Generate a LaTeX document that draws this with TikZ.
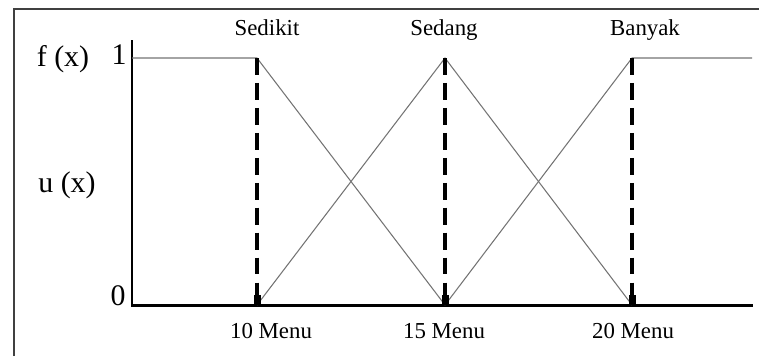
\documentclass[tikz,border=0pt]{standalone}
\usepackage{fontspec}
\setmainfont{Liberation Serif}
\usetikzlibrary{calc}
\tikzset{
  axisline/.style={line width=1.7pt, color=black},
  fuzzyline/.style={line width=0.6pt, color=black!55},
  guideline/.style={line width=1.8pt, color=black, dash pattern=on 9.6pt off 4.6pt},
  lbl/.style={font=\fontsize{13}{15}\selectfont, inner sep=0pt, anchor=base},
  biglbl/.style={font=\fontsize{17}{19}\selectfont, inner sep=0pt, anchor=base}
}
\begin{document}
\begin{tikzpicture}[x=0.02cm, y=-0.02cm]
			%%%%% START %%%%%
			\useasboundingbox (0, 0) rectangle (759, 356);
			
			% frame
			\draw[line width=0.6pt, color=black!75] (14, 356) -- (14, 9) -- (759, 9);
			
			% key points
			\coordinate (origin) at (132, 305);
			\coordinate (ytop) at (132, 40);
			\coordinate (xend) at (753, 305);
			\coordinate (top0) at (132, 58);
			\coordinate (top10) at (257, 58);
			\coordinate (top15) at (445, 58);
			\coordinate (top20) at (632, 58);
			\coordinate (topend) at (752, 58);
			\coordinate (bot10) at (257, 305);
			\coordinate (bot15) at (445, 305);
			\coordinate (bot20) at (632, 305);
			
			% axes
			\draw[axisline] (ytop) -- (origin) -- (xend);
			
			% membership functions
			\draw[fuzzyline] (top0) -- (top10) -- (bot15);
			\draw[fuzzyline] (bot10) -- (top15) -- (bot20);
			\draw[fuzzyline] (bot15) -- (top20) -- (topend);
			
			% guides
			\draw[guideline] (top10) -- (bot10);
			\draw[guideline] (top15) -- (bot15);
			\draw[guideline] (top20) -- (bot20);
			\fill[black] ($(bot10)+(-3.5, 0)$) rectangle ($(bot10)+(3.5, -10)$);
			\fill[black] ($(bot15)+(-3.5, 0)$) rectangle ($(bot15)+(3.5, -10)$);
			\fill[black] ($(bot20)+(-3.5, 0)$) rectangle ($(bot20)+(3.5, -10)$);
			
			% labels
			\node[lbl] (sedikit) at (267, 35) {Sedikit};
			\node[lbl] (sedang) at (444, 35) {Sedang};
			\node[lbl] (banyak) at (645, 35) {Banyak};
			\node[lbl] (m10) at (271, 338) {10 Menu};
			\node[lbl] (m15) at (444, 338) {15 Menu};
			\node[lbl] (m20) at (633, 338) {20 Menu};
			\node[biglbl] (fx) at (63, 66) {f (x)};
			\node[biglbl] (ux) at (67, 192) {u (x)};
			\node[biglbl] (one) at (119, 64) {1};
			\node[biglbl] (zero) at (118, 305) {0};
			%%%%% END %%%%%
\end{tikzpicture}
\end{document}
